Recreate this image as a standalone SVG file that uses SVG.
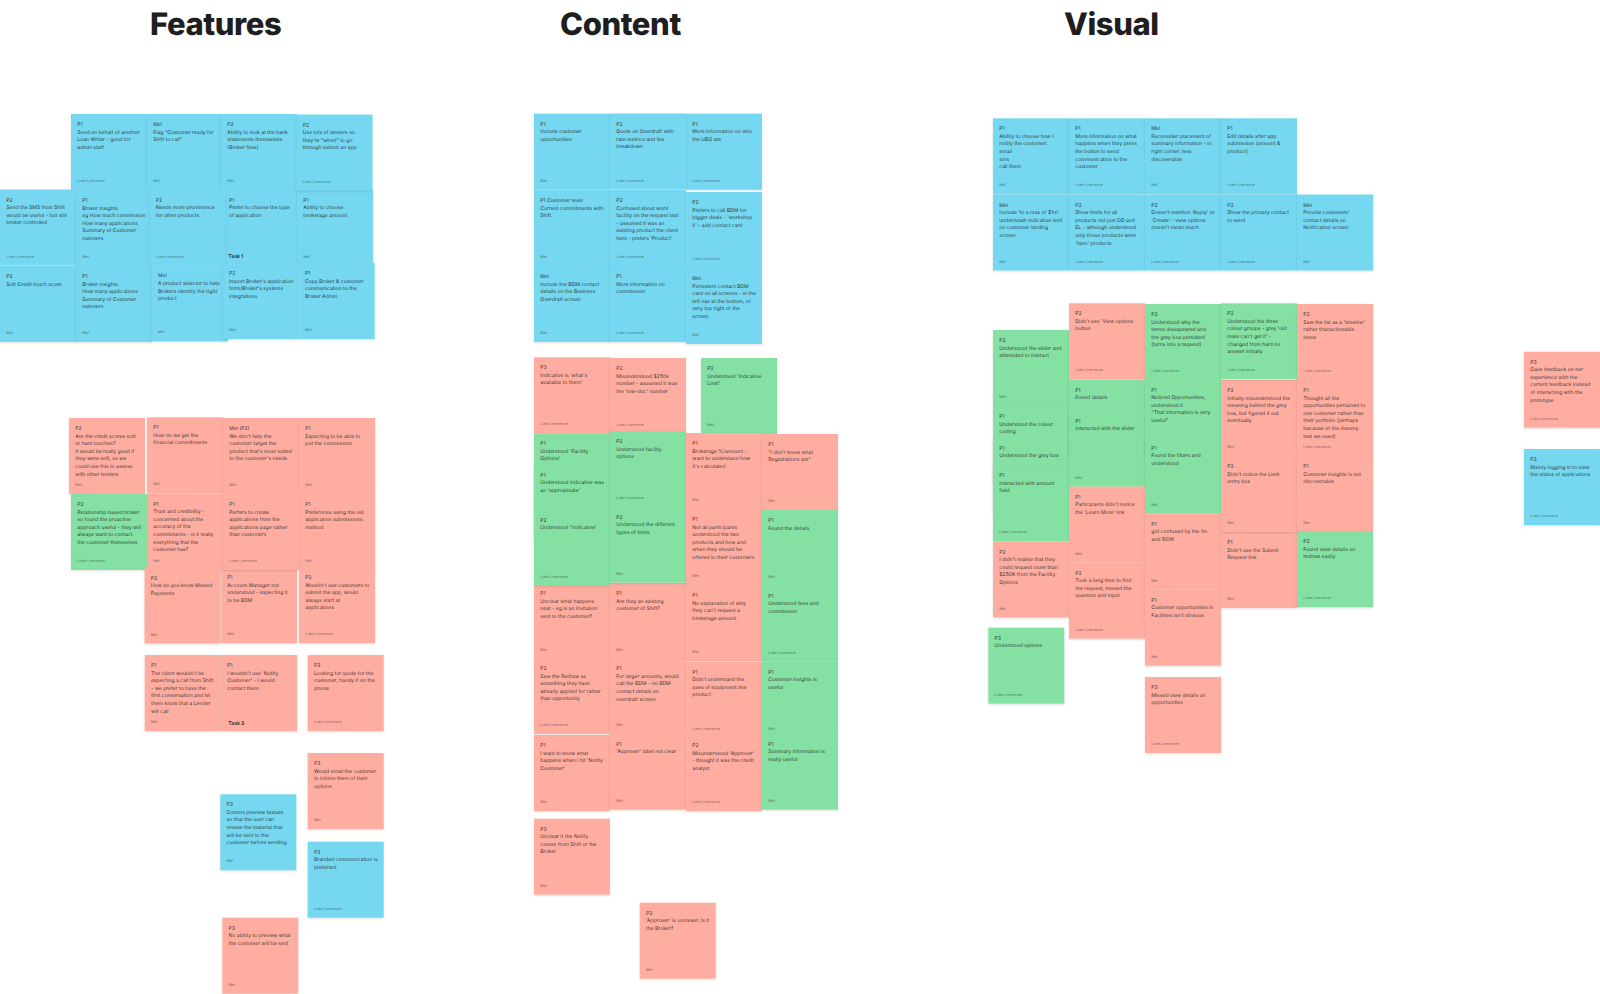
<svg xmlns="http://www.w3.org/2000/svg" width="1600" height="994" viewBox="0 0 1600 994">
<style>
text{font-family:Inter,"Liberation Sans",sans-serif;text-rendering:geometricPrecision}
.h{font-size:31px;font-weight:800;fill:#1e1e1e;letter-spacing:-.4px}
.t{font-size:5.07px;fill:#1e1e1e;fill-opacity:.9}
.a{font-size:3.8px;fill:#1e1e1e;fill-opacity:.6}
.k{font-size:5.07px;font-weight:600;fill:#1e1e1e}
.b,.r,.g{filter:url(#sh)}
.b{fill:#75D7F0}.r{fill:#FFADA1}.g{fill:#85E0A3}
</style>
<defs><filter id="sh" x="-10%" y="-10%" width="120%" height="125%"><feDropShadow dx="0" dy="1" stdDeviation="1.1" flood-color="#000" flood-opacity=".13"/></filter></defs>
<rect width="1600" height="994" fill="#fff"/>
<text class="h" x="150" y="35">Features</text>
<text class="h" x="560" y="35">Content</text>
<text class="h" x="1064" y="35">Visual</text>

<g id="f1" transform="translate(71 114)"><rect class="b" width="76" height="76"/><text class="t" x="6.3" y="12">P1<tspan x="6.3" dy="7.6">Send on behalf of another</tspan><tspan x="6.3" dy="7.6">Loan Writer - good for</tspan><tspan x="6.3" dy="7.6">admin staff</tspan></text><text class="a" x="6.3" y="68">Luke Livermore</text></g>
<g id="f2" transform="translate(147 114)"><rect class="b" width="76" height="76"/><text class="t" x="6.3" y="12">Mel<tspan x="6.3" dy="7.6">Flag "Customer ready for</tspan><tspan x="6.3" dy="7.6">Shift to call"</tspan></text><text class="a" x="6.3" y="68">Mel</text></g>
<g id="f3" transform="translate(221 114)"><rect class="b" width="76" height="76"/><text class="t" x="6.3" y="12">P2<tspan x="6.3" dy="7.6">Ability to look at the bank</tspan><tspan x="6.3" dy="7.6">statements themselves</tspan><tspan x="6.3" dy="7.6">(Broker flow)</tspan></text><text class="a" x="6.3" y="68">Mel</text></g>
<g id="f4" transform="translate(0 189.5)"><rect class="b" width="76" height="76"/><text class="t" x="6.3" y="12">P2<tspan x="6.3" dy="7.6">Send the SMS from Shift</tspan><tspan x="6.3" dy="7.6">would be useful - but still</tspan><tspan x="6.3" dy="7.6">broker controlled</tspan></text><text class="a" x="6.3" y="68">Luke Livermore</text></g>
<g id="f5" transform="translate(76 190)"><rect class="b" width="76" height="76"/><text class="t" x="6.3" y="12">P1<tspan x="6.3" dy="7.6">Broker insights</tspan><tspan x="6.3" dy="7.6">eg How much commission</tspan><tspan x="6.3" dy="7.6">How many applications</tspan><tspan x="6.3" dy="7.6">Summary of Customer</tspan><tspan x="6.3" dy="7.6">nubmers</tspan></text><text class="a" x="6.3" y="68">Mel</text></g>
<g id="f6" transform="translate(222.7 189.5)"><rect class="b" width="76" height="76"/><text class="t" x="6.3" y="12">P1<tspan x="6.3" dy="7.6">Prefer to choose the type</tspan><tspan x="6.3" dy="7.6">of application</tspan></text></g>
<g id="f7" transform="translate(297 189.5)"><rect class="b" width="76" height="76"/><text class="t" x="6.3" y="12">P1<tspan x="6.3" dy="7.6">Ability to choose</tspan><tspan x="6.3" dy="7.6">brokerage amount</tspan></text><text class="a" x="6.3" y="68">Mel</text></g>
<g id="f8" transform="translate(296.5 114.5)"><rect class="b" width="76" height="76"/><text class="t" x="6.3" y="12">P2<tspan x="6.3" dy="7.6">Use lots of lenders so</tspan><tspan x="6.3" dy="7.6">they're "wired" to go</tspan><tspan x="6.3" dy="7.6">through submit an app</tspan></text><text class="a" x="6.3" y="68">Luke Livermore</text></g>
<g id="f9" transform="translate(149.5 189.5)"><rect class="b" width="76" height="76"/><text class="t" x="6.3" y="12">P2<tspan x="6.3" dy="7.6">Needs more prominence</tspan><tspan x="6.3" dy="7.6">for other products</tspan></text><text class="a" x="6.3" y="68">Luke Livermore</text></g>
<g id="f10" transform="translate(0 266)"><rect class="b" width="76" height="76"/><text class="t" x="6.3" y="12">P2<tspan x="6.3" dy="7.6">Soft Credit touch score</tspan></text><text class="a" x="6.3" y="68">Mel</text></g>
<g id="f11" transform="translate(76 266)"><rect class="b" width="76" height="76"/><text class="t" x="6.3" y="12">P1<tspan x="6.3" dy="7.6">Broker insights</tspan><tspan x="6.3" dy="7.6">How many applications</tspan><tspan x="6.3" dy="7.6">Summary of Customer</tspan><tspan x="6.3" dy="7.6">nubmers</tspan></text><text class="a" x="6.3" y="68">Mel</text></g>
<g id="f12" transform="translate(151.7 265.4)"><rect class="b" width="76" height="76"/><text class="t" x="6.3" y="12">Mel<tspan x="6.3" dy="7.6">A product selector to help</tspan><tspan x="6.3" dy="7.6">Brokers identify the right</tspan><tspan x="6.3" dy="7.6">product</tspan></text><text class="a" x="6.3" y="68">Mel</text></g>
<g id="f13" transform="translate(222.7 263)"><rect class="b" width="76" height="76"/><text class="t" x="6.3" y="12">P2<tspan x="6.3" dy="7.6">Import Broker's application</tspan><tspan x="6.3" dy="7.6">form/Broker's systems</tspan><tspan x="6.3" dy="7.6">integrations</tspan></text><text class="a" x="6.3" y="68">Mel</text></g>
<g id="f14" transform="translate(298.7 263)"><rect class="b" width="76" height="76"/><text class="t" x="6.3" y="12">P1<tspan x="6.3" dy="7.6">Copy Broker &amp; customer</tspan><tspan x="6.3" dy="7.6">communication to the</tspan><tspan x="6.3" dy="7.6">Broker Admin</tspan></text><text class="a" x="6.3" y="68">Mel</text></g>
<text id="task1" class="k" x="228.3" y="258">Task 1</text>

<g id="f15" transform="translate(69 418)"><rect class="r" width="76" height="76"/><text class="t" x="6.3" y="12">P2<tspan x="6.3" dy="7.6">Are the credit scores soft</tspan><tspan x="6.3" dy="7.6">or hard touches?</tspan><tspan x="6.3" dy="7.6">It would be really good if</tspan><tspan x="6.3" dy="7.6">they were soft, so we</tspan><tspan x="6.3" dy="7.6">could use this to assess</tspan><tspan x="6.3" dy="7.6">with other lenders</tspan></text><text class="a" x="6.3" y="68">Mel</text></g>
<g id="f16" transform="translate(147 417.3)"><rect class="r" width="76" height="76"/><text class="t" x="6.3" y="12">P1<tspan x="6.3" dy="7.6">How do we get the</tspan><tspan x="6.3" dy="7.6">financial commitments</tspan></text><text class="a" x="6.3" y="68">Mel</text></g>
<g id="f17" transform="translate(223 418)"><rect class="r" width="76" height="76"/><text class="t" x="6.3" y="12">Mel (P2)<tspan x="6.3" dy="7.6">We don't help the</tspan><tspan x="6.3" dy="7.6">customer target the</tspan><tspan x="6.3" dy="7.6">product that's most suited</tspan><tspan x="6.3" dy="7.6">to the customer's needs</tspan></text><text class="a" x="6.3" y="68">Mel</text></g>
<g id="f18" transform="translate(299 418)"><rect class="r" width="76" height="76"/><text class="t" x="6.3" y="12">P1<tspan x="6.3" dy="7.6">Expecting to be able to</tspan><tspan x="6.3" dy="7.6">put the commission</tspan></text><text class="a" x="6.3" y="68">Mel</text></g>
<g id="f19" transform="translate(147 493.5)"><rect class="r" width="76" height="76"/><text class="t" x="6.3" y="12">P1<tspan x="6.3" dy="7.6">Trust and credibility -</tspan><tspan x="6.3" dy="7.6">concerned about the</tspan><tspan x="6.3" dy="7.6">accuracy of the</tspan><tspan x="6.3" dy="7.6">commitments - is it really</tspan><tspan x="6.3" dy="7.6">everything that the</tspan><tspan x="6.3" dy="7.6">customer has?</tspan></text><text class="a" x="6.3" y="68">Mel</text></g>
<g id="f20" transform="translate(71 494)"><rect class="g" width="76" height="76"/><text class="t" x="6.3" y="12">P2<tspan x="6.3" dy="7.6">Relationship based broker</tspan><tspan x="6.3" dy="7.6">so found the proactive</tspan><tspan x="6.3" dy="7.6">approach useful - they will</tspan><tspan x="6.3" dy="7.6">always want to contact</tspan><tspan x="6.3" dy="7.6">the customer themselves</tspan></text><text class="a" x="6.3" y="68">Luke Livermore</text></g>
<g id="f21" transform="translate(299 494)"><rect class="r" width="76" height="76"/><text class="t" x="6.3" y="12">P1<tspan x="6.3" dy="7.6">Prefernces using the old</tspan><tspan x="6.3" dy="7.6">application submissions</tspan><tspan x="6.3" dy="7.6">method</tspan></text><text class="a" x="6.3" y="68">Mel</text></g>
<g id="f22" transform="translate(144.5 567.5)"><rect class="r" width="76" height="76"/><text class="t" x="6.3" y="12">P2<tspan x="6.3" dy="7.6">How do you know Missed</tspan><tspan x="6.3" dy="7.6">Payments</tspan></text><text class="a" x="6.3" y="68">Mel</text></g>
<g id="f23" transform="translate(221 567)"><rect class="r" width="76" height="76"/><text class="t" x="6.3" y="12">P1<tspan x="6.3" dy="7.6">Account Manager not</tspan><tspan x="6.3" dy="7.6">understood - expecting it</tspan><tspan x="6.3" dy="7.6">to be BDM</tspan></text><text class="a" x="6.3" y="68">Mel</text></g>
<g id="f24" transform="translate(223 494)"><rect class="r" width="76" height="76"/><text class="t" x="6.3" y="12">P1<tspan x="6.3" dy="7.6">Perfers to create</tspan><tspan x="6.3" dy="7.6">applications from the</tspan><tspan x="6.3" dy="7.6">applications page rather</tspan><tspan x="6.3" dy="7.6">than customers</tspan></text><text class="a" x="6.3" y="68">Luke Livermore</text></g>
<g id="f25" transform="translate(299 567)"><rect class="r" width="76" height="76"/><text class="t" x="6.3" y="12">P2<tspan x="6.3" dy="7.6">Wouldn't use customers to</tspan><tspan x="6.3" dy="7.6">submit the app, would</tspan><tspan x="6.3" dy="7.6">always start at</tspan><tspan x="6.3" dy="7.6">applications</tspan></text><text class="a" x="6.3" y="68">Luke Livermore</text></g>
<g id="f26" transform="translate(144.7 655)"><rect class="r" width="76" height="76"/><text class="t" x="6.3" y="12">P1<tspan x="6.3" dy="7.6">The client wouldn't be</tspan><tspan x="6.3" dy="7.6">expecting a call from Shift</tspan><tspan x="6.3" dy="7.6">- we prefer to have the</tspan><tspan x="6.3" dy="7.6">first conversation and let</tspan><tspan x="6.3" dy="7.6">them know that a Lender</tspan><tspan x="6.3" dy="7.6">will call</tspan></text><text class="a" x="6.3" y="68">Mel</text></g>
<g id="f27" transform="translate(221 655)"><rect class="r" width="76" height="76"/><text class="t" x="6.3" y="12">P1<tspan x="6.3" dy="7.6">I wouldn't use 'Notify</tspan><tspan x="6.3" dy="7.6">Customer' - I would</tspan><tspan x="6.3" dy="7.6">contact them</tspan></text></g>
<text id="task3" class="k" x="228.3" y="725">Task 3</text>
<g id="f28" transform="translate(307.7 655)"><rect class="r" width="76" height="76"/><text class="t" x="6.3" y="12">P3<tspan x="6.3" dy="7.6">Looking for quote for the</tspan><tspan x="6.3" dy="7.6">customer, handy if on the</tspan><tspan x="6.3" dy="7.6">phone</tspan></text><text class="a" x="6.3" y="68">Luke Livermore</text></g>
<g id="f29" transform="translate(307.7 753)"><rect class="r" width="76" height="76"/><text class="t" x="6.3" y="12">P3<tspan x="6.3" dy="7.6">Would email the customer</tspan><tspan x="6.3" dy="7.6">to inform them of their</tspan><tspan x="6.3" dy="7.6">options</tspan></text><text class="a" x="6.3" y="68">Mel</text></g>
<g id="f30" transform="translate(220.3 794.3)"><rect class="b" width="76" height="76"/><text class="t" x="6.3" y="12">P3<tspan x="6.3" dy="7.6">Comms preview feature</tspan><tspan x="6.3" dy="7.6">so that the user can</tspan><tspan x="6.3" dy="7.6">review the material that</tspan><tspan x="6.3" dy="7.6">will be sent to the</tspan><tspan x="6.3" dy="7.6">customer before sending</tspan></text><text class="a" x="6.3" y="68">Mel</text></g>
<g id="f31" transform="translate(307.7 841.7)"><rect class="b" width="76" height="76"/><text class="t" x="6.3" y="12">P3<tspan x="6.3" dy="7.6">Branded communication is</tspan><tspan x="6.3" dy="7.6">preferred</tspan></text><text class="a" x="6.3" y="68">Luke Livermore</text></g>
<g id="f32" transform="translate(222.3 917.7)"><rect class="r" width="76" height="76"/><text class="t" x="6.3" y="12">P3<tspan x="6.3" dy="7.6">No ability to preview what</tspan><tspan x="6.3" dy="7.6">the customer will be sent</tspan></text><text class="a" x="6.3" y="68">Mel</text></g>

<g id="c1" transform="translate(534 113.7)"><rect class="b" width="76" height="76"/><text class="t" x="6.3" y="12">P1<tspan x="6.3" dy="7.6">Include customer</tspan><tspan x="6.3" dy="7.6">opportunities</tspan></text><text class="a" x="6.3" y="68">Mel</text></g>
<g id="c2" transform="translate(686 113.7)"><rect class="b" width="76" height="76"/><text class="t" x="6.3" y="12">P1<tspan x="6.3" dy="7.6">More information on who</tspan><tspan x="6.3" dy="7.6">the UBO are</tspan></text><text class="a" x="6.3" y="68">Luke Livermore</text></g>
<g id="c3" transform="translate(610 113.5)"><rect class="b" width="76" height="76"/><text class="t" x="6.3" y="12">P2<tspan x="6.3" dy="7.6">Quote on Overdraft with</tspan><tspan x="6.3" dy="7.6">rate metrics and fee</tspan><tspan x="6.3" dy="7.6">breakdown</tspan></text><text class="a" x="6.3" y="68">Luke Livermore</text></g>
<g id="c4" transform="translate(534 190)"><rect class="b" width="76" height="76"/><text class="t" x="6.3" y="12">P1 Customer level<tspan x="6.3" dy="7.6">Current commitments with</tspan><tspan x="6.3" dy="7.6">Shift</tspan></text><text class="a" x="6.3" y="68">Mel</text></g>
<g id="c5" transform="translate(610 190)"><rect class="b" width="76" height="76"/><text class="t" x="6.3" y="12">P2<tspan x="6.3" dy="7.6">Confused about word</tspan><tspan x="6.3" dy="7.6">facility on the request text</tspan><tspan x="6.3" dy="7.6">- assumed it was an</tspan><tspan x="6.3" dy="7.6">existing product the client</tspan><tspan x="6.3" dy="7.6">held - prefers 'Product'</tspan></text><text class="a" x="6.3" y="68">Luke Livermore</text></g>
<g id="c6" transform="translate(686 192)"><rect class="b" width="76" height="76"/><text class="t" x="6.3" y="12">P2<tspan x="6.3" dy="7.6">Prefers to call BDM for</tspan><tspan x="6.3" dy="7.6">bigger deals - 'workshop</tspan><tspan x="6.3" dy="7.6">it' - add contact card</tspan></text><text class="a" x="6.3" y="68">Luke Livermore</text></g>
<g id="c7" transform="translate(534 266)"><rect class="b" width="76" height="76"/><text class="t" x="6.3" y="12">Mel<tspan x="6.3" dy="7.6">Include the BDM contact</tspan><tspan x="6.3" dy="7.6">details on the Business</tspan><tspan x="6.3" dy="7.6">Overdraft screen</tspan></text><text class="a" x="6.3" y="68">Mel</text></g>
<g id="c8" transform="translate(610 266)"><rect class="b" width="76" height="76"/><text class="t" x="6.3" y="12">P1<tspan x="6.3" dy="7.6">More information on</tspan><tspan x="6.3" dy="7.6">commission</tspan></text><text class="a" x="6.3" y="68">Luke Livermore</text></g>
<g id="c9" transform="translate(686 268)"><rect class="b" width="76" height="76"/><text class="t" x="6.3" y="12">Mel<tspan x="6.3" dy="7.6">Persistent contact BDM</tspan><tspan x="6.3" dy="7.6">card on all screens - in the</tspan><tspan x="6.3" dy="7.6">left nav at the bottom, or</tspan><tspan x="6.3" dy="7.6">very top right of the</tspan><tspan x="6.3" dy="7.6">screen</tspan></text><text class="a" x="6.3" y="68">Mel</text></g>

<g id="c10" transform="translate(534 357.3)"><rect class="r" width="76" height="76"/><text class="t" x="6.3" y="12">P3<tspan x="6.3" dy="7.6">Indicative is 'what's</tspan><tspan x="6.3" dy="7.6">available to them'</tspan></text><text class="a" x="6.3" y="68">Luke Livermore</text></g>
<g id="c11" transform="translate(610 358)"><rect class="r" width="76" height="76"/><text class="t" x="6.3" y="12">P2<tspan x="6.3" dy="7.6">Misunderstood $250k</tspan><tspan x="6.3" dy="7.6">number - asuumed it was</tspan><tspan x="6.3" dy="7.6">the 'low-doc' number</tspan></text><text class="a" x="6.3" y="68">Luke Livermore</text></g>
<g id="c12" transform="translate(701 358)"><rect class="g" width="76" height="76"/><text class="t" x="6.3" y="12">P2<tspan x="6.3" dy="7.6">Understood 'Indicative</tspan><tspan x="6.3" dy="7.6">Limit'</tspan></text><text class="a" x="6.3" y="68">Mel</text></g>
<g id="c13" transform="translate(534 583)"><rect class="r" width="76" height="76"/><text class="t" x="6.3" y="12">P1<tspan x="6.3" dy="7.6">Unclear what happens</tspan><tspan x="6.3" dy="7.6">next - eg is an invitation</tspan><tspan x="6.3" dy="7.6">sent to the customer?</tspan></text><text class="a" x="6.3" y="68">Mel</text></g>
<g id="c14" transform="translate(534 433.3)"><rect class="g" width="76" height="76"/><text class="t" x="6.3" y="12">P1<tspan x="6.3" dy="7.6">Understood 'Facility</tspan><tspan x="6.3" dy="7.6">Options'</tspan></text></g>
<g id="c15" transform="translate(534 464.5)"><rect class="g" width="76" height="76"/><text class="t" x="6.3" y="12">P1<tspan x="6.3" dy="7.6">Understood indicative was</tspan><tspan x="6.3" dy="7.6">an 'approximate'</tspan></text></g>
<g id="c16" transform="translate(534 509.5)"><rect class="g" width="76" height="76"/><text class="t" x="6.3" y="12">P2<tspan x="6.3" dy="7.6">Understood "indicative'</tspan></text><text class="a" x="6.3" y="68">Luke Livermore</text></g>
<g id="c17" transform="translate(610 583)"><rect class="r" width="76" height="76"/><text class="t" x="6.3" y="12">P1<tspan x="6.3" dy="7.6">Are they an existing</tspan><tspan x="6.3" dy="7.6">customer of Shift?</tspan></text><text class="a" x="6.3" y="68">Mel</text></g>
<g id="c18" transform="translate(610 431)"><rect class="g" width="76" height="76"/><text class="t" x="6.3" y="12">P2<tspan x="6.3" dy="7.6">Understood facility</tspan><tspan x="6.3" dy="7.6">options</tspan></text><text class="a" x="6.3" y="68">Luke Livermore</text></g>
<g id="c19" transform="translate(610 506.7)"><rect class="g" width="76" height="76"/><text class="t" x="6.3" y="12">P2<tspan x="6.3" dy="7.6">Understood the different</tspan><tspan x="6.3" dy="7.6">types of limits</tspan></text><text class="a" x="6.3" y="68">Mel</text></g>
<g id="c20" transform="translate(686 433)"><rect class="r" width="76" height="76"/><text class="t" x="6.3" y="12">P1<tspan x="6.3" dy="7.6">Brokerage %/amount -</tspan><tspan x="6.3" dy="7.6">want to understand how</tspan><tspan x="6.3" dy="7.6">it's calculated</tspan></text><text class="a" x="6.3" y="68">Mel</text></g>
<g id="c21" transform="translate(686 509)"><rect class="r" width="76" height="76"/><text class="t" x="6.3" y="12">P1<tspan x="6.3" dy="7.6">Not all participants</tspan><tspan x="6.3" dy="7.6">understood the two</tspan><tspan x="6.3" dy="7.6">products and how and</tspan><tspan x="6.3" dy="7.6">when they should be</tspan><tspan x="6.3" dy="7.6">offered to their customers</tspan></text><text class="a" x="6.3" y="68">Mel</text></g>
<g id="c22" transform="translate(686 585)"><rect class="r" width="76" height="76"/><text class="t" x="6.3" y="12">P1<tspan x="6.3" dy="7.6">No explanation of why</tspan><tspan x="6.3" dy="7.6">they can't request a</tspan><tspan x="6.3" dy="7.6">brokerage amount</tspan></text><text class="a" x="6.3" y="68">Mel</text></g>
<g id="c23" transform="translate(762 434)"><rect class="r" width="76" height="76"/><text class="t" x="6.3" y="12">P1<tspan x="6.3" dy="7.6">"I don't know what</tspan><tspan x="6.3" dy="7.6">Registrations are"</tspan></text><text class="a" x="6.3" y="68">Mel</text></g>
<g id="c24" transform="translate(762 510)"><rect class="g" width="76" height="76"/><text class="t" x="6.3" y="12">P1<tspan x="6.3" dy="7.6">Found the details</tspan></text><text class="a" x="6.3" y="68">Mel</text></g>
<g id="c25" transform="translate(762 585.7)"><rect class="g" width="76" height="76"/><text class="t" x="6.3" y="12">P1<tspan x="6.3" dy="7.6">Understood fees and</tspan><tspan x="6.3" dy="7.6">commission</tspan></text><text class="a" x="6.3" y="68">Luke Livermore</text></g>
<g id="c26" transform="translate(534 658)"><rect class="r" width="76" height="76"/><text class="t" x="6.3" y="12">P2<tspan x="6.3" dy="7.6">Saw the Redraw as</tspan><tspan x="6.3" dy="7.6">something they have</tspan><tspan x="6.3" dy="7.6">already applied for rather</tspan><tspan x="6.3" dy="7.6">than opportunity</tspan></text><text class="a" x="6.3" y="68">Luke Livermore</text></g>
<g id="c27" transform="translate(610 658.3)"><rect class="r" width="76" height="76"/><text class="t" x="6.3" y="12">P1<tspan x="6.3" dy="7.6">For larger amounts, would</tspan><tspan x="6.3" dy="7.6">call the BDM - no BDM</tspan><tspan x="6.3" dy="7.6">contact details on</tspan><tspan x="6.3" dy="7.6">overdraft screen</tspan></text><text class="a" x="6.3" y="68">Mel</text></g>
<g id="c28" transform="translate(686 661.7)"><rect class="r" width="76" height="76"/><text class="t" x="6.3" y="12">P1<tspan x="6.3" dy="7.6">Didn't understand the</tspan><tspan x="6.3" dy="7.6">uses of equipment line</tspan><tspan x="6.3" dy="7.6">product</tspan></text><text class="a" x="6.3" y="68">Luke Livermore</text></g>
<g id="c29" transform="translate(762 661.7)"><rect class="g" width="76" height="76"/><text class="t" x="6.3" y="12">P1<tspan x="6.3" dy="7.6">Customer insights is</tspan><tspan x="6.3" dy="7.6">useful</tspan></text><text class="a" x="6.3" y="68">Mel</text></g>
<g id="c30" transform="translate(534 735)"><rect class="r" width="76" height="76"/><text class="t" x="6.3" y="12">P1<tspan x="6.3" dy="7.6">I want to know what</tspan><tspan x="6.3" dy="7.6">happens when I hit 'Notify</tspan><tspan x="6.3" dy="7.6">Customer'</tspan></text><text class="a" x="6.3" y="68">Mel</text></g>
<g id="c31" transform="translate(610 733.7)"><rect class="r" width="76" height="76"/><text class="t" x="6.3" y="12">P1<tspan x="6.3" dy="7.6">'Approver' label not clear</tspan></text><text class="a" x="6.3" y="68">Mel</text></g>
<g id="c32" transform="translate(686 735)"><rect class="r" width="76" height="76"/><text class="t" x="6.3" y="12">P2<tspan x="6.3" dy="7.6">Misunderstood 'Approver'</tspan><tspan x="6.3" dy="7.6">- thought it was the credit</tspan><tspan x="6.3" dy="7.6">analyst</tspan></text><text class="a" x="6.3" y="68">Luke Livermore</text></g>
<g id="c33" transform="translate(762 733.7)"><rect class="g" width="76" height="76"/><text class="t" x="6.3" y="12">P1<tspan x="6.3" dy="7.6">Summary information is</tspan><tspan x="6.3" dy="7.6">really useful</tspan></text><text class="a" x="6.3" y="68">Mel</text></g>
<g id="c34" transform="translate(534 818.7)"><rect class="r" width="76" height="76"/><text class="t" x="6.3" y="12">P3<tspan x="6.3" dy="7.6">Unclear if the Notify</tspan><tspan x="6.3" dy="7.6">comes from Shift or the</tspan><tspan x="6.3" dy="7.6">Broker</tspan></text><text class="a" x="6.3" y="68">Mel</text></g>
<g id="c35" transform="translate(639.7 902.7)"><rect class="r" width="76" height="76"/><text class="t" x="6.3" y="12">P3<tspan x="6.3" dy="7.6">'Approver' is uncleaer. Is it</tspan><tspan x="6.3" dy="7.6">the Broker?</tspan></text><text class="a" x="6.3" y="68">Mel</text></g>

<g id="v1" transform="translate(993 118.3)"><rect class="b" width="76" height="76"/><text class="t" x="6.3" y="12">P1<tspan x="6.3" dy="7.6">Ability to choose how I</tspan><tspan x="6.3" dy="7.6">notify the customer:</tspan><tspan x="6.3" dy="7.6">email</tspan><tspan x="6.3" dy="7.6">sms</tspan><tspan x="6.3" dy="7.6">call them</tspan></text><text class="a" x="6.3" y="68">Mel</text></g>
<g id="v2" transform="translate(1069 118.3)"><rect class="b" width="76" height="76"/><text class="t" x="6.3" y="12">P1<tspan x="6.3" dy="7.6">More information on what</tspan><tspan x="6.3" dy="7.6">happens when they press</tspan><tspan x="6.3" dy="7.6">the button to send</tspan><tspan x="6.3" dy="7.6">communication to the</tspan><tspan x="6.3" dy="7.6">customer</tspan></text><text class="a" x="6.3" y="68">Luke Livermore</text></g>
<g id="v3" transform="translate(1145 118.3)"><rect class="b" width="76" height="76"/><text class="t" x="6.3" y="12">Mel<tspan x="6.3" dy="7.6">Reconsider placement of</tspan><tspan x="6.3" dy="7.6">summary information - in</tspan><tspan x="6.3" dy="7.6">right corner, less</tspan><tspan x="6.3" dy="7.6">discoverable</tspan></text><text class="a" x="6.3" y="68">Mel</text></g>
<g id="v4" transform="translate(1221 118.3)"><rect class="b" width="76" height="76"/><text class="t" x="6.3" y="12">P1<tspan x="6.3" dy="7.6">Edit details after app</tspan><tspan x="6.3" dy="7.6">submission (amount &amp;</tspan><tspan x="6.3" dy="7.6">product)</tspan></text><text class="a" x="6.3" y="68">Luke Livermore</text></g>
<g id="v5" transform="translate(993 194.5)"><rect class="b" width="76" height="76"/><text class="t" x="6.3" y="12">Mel<tspan x="6.3" dy="7.6">Include 'to a max of $1m'</tspan><tspan x="6.3" dy="7.6">underneath indicative limit</tspan><tspan x="6.3" dy="7.6">on customer landing</tspan><tspan x="6.3" dy="7.6">screen</tspan></text><text class="a" x="6.3" y="68">Mel</text></g>
<g id="v6" transform="translate(1069 194.5)"><rect class="b" width="76" height="76"/><text class="t" x="6.3" y="12">P2<tspan x="6.3" dy="7.6">Show limits for all</tspan><tspan x="6.3" dy="7.6">products not just OD and</tspan><tspan x="6.3" dy="7.6">EL - although understood</tspan><tspan x="6.3" dy="7.6">only those products were</tspan><tspan x="6.3" dy="7.6">'hero' products</tspan></text><text class="a" x="6.3" y="68">Luke Livermore</text></g>
<g id="v7" transform="translate(1145 194.5)"><rect class="b" width="76" height="76"/><text class="t" x="6.3" y="12">P2<tspan x="6.3" dy="7.6">Doesn't mention 'Apply' or</tspan><tspan x="6.3" dy="7.6">'Create' - view options</tspan><tspan x="6.3" dy="7.6">doesn't mean much</tspan></text><text class="a" x="6.3" y="68">Luke Livermore</text></g>
<g id="v8" transform="translate(1221 194.5)"><rect class="b" width="76" height="76"/><text class="t" x="6.3" y="12">P2<tspan x="6.3" dy="7.6">Show the primary contact</tspan><tspan x="6.3" dy="7.6">to send</tspan></text><text class="a" x="6.3" y="68">Luke Livermore</text></g>
<g id="v9" transform="translate(1297 194.5)"><rect class="b" width="76" height="76"/><text class="t" x="6.3" y="12">Mel<tspan x="6.3" dy="7.6">Provide customers'</tspan><tspan x="6.3" dy="7.6">contact details on</tspan><tspan x="6.3" dy="7.6">Notification screen</tspan></text><text class="a" x="6.3" y="68">Mel</text></g>

<g id="v10" transform="translate(993 330)"><rect class="g" width="76" height="76"/><text class="t" x="6.3" y="12">P2<tspan x="6.3" dy="7.6">Understood the slider and</tspan><tspan x="6.3" dy="7.6">attempted to interact</tspan></text><text class="a" x="6.3" y="68">Mel</text></g>
<g id="v11" transform="translate(993 406)"><rect class="g" width="76" height="76"/><text class="t" x="6.3" y="12">P1<tspan x="6.3" dy="7.6">Understood the colour</tspan><tspan x="6.3" dy="7.6">coding</tspan></text></g>
<g id="v12" transform="translate(993 437.7)"><rect class="g" width="76" height="76"/><text class="t" x="6.3" y="12">P1<tspan x="6.3" dy="7.6">Understood the grey box</tspan></text></g>
<g id="v13" transform="translate(993 465.3)"><rect class="g" width="76" height="76"/><text class="t" x="6.3" y="12">P1<tspan x="6.3" dy="7.6">Interacted with amount</tspan><tspan x="6.3" dy="7.6">field</tspan></text><text class="a" x="6.3" y="68">Luke Livermore</text></g>
<g id="v14" transform="translate(993 541.5)"><rect class="r" width="76" height="76"/><text class="t" x="6.3" y="12">P2<tspan x="6.3" dy="7.6">I didn't realise that they</tspan><tspan x="6.3" dy="7.6">could request more than</tspan><tspan x="6.3" dy="7.6">$250K from the Facility</tspan><tspan x="6.3" dy="7.6">Options</tspan></text><text class="a" x="6.3" y="68">Mel</text></g>
<g id="v15" transform="translate(988.3 627.7)"><rect class="g" width="76" height="76"/><text class="t" x="6.3" y="12">P3<tspan x="6.3" dy="7.6">Understood options</tspan></text><text class="a" x="6.3" y="68">Luke Livermore</text></g>
<g id="v16" transform="translate(1069 303.3)"><rect class="r" width="76" height="76"/><text class="t" x="6.3" y="12">P2<tspan x="6.3" dy="7.6">Didn't see 'View options'</tspan><tspan x="6.3" dy="7.6">button</tspan></text><text class="a" x="6.3" y="68">Luke Livermore</text></g>
<g id="v17" transform="translate(1069 379.5)"><rect class="g" width="76" height="76"/><text class="t" x="6.3" y="12">P1<tspan x="6.3" dy="7.6">Found details</tspan></text></g>
<g id="v18" transform="translate(1069 410.7)"><rect class="g" width="76" height="76"/><text class="t" x="6.3" y="12">P1<tspan x="6.3" dy="7.6">Interacted with the slider</tspan></text><text class="a" x="6.3" y="68">Mel</text></g>
<g id="v19" transform="translate(1069 486.7)"><rect class="r" width="76" height="76"/><text class="t" x="6.3" y="12">P1<tspan x="6.3" dy="7.6">Participants didn't notice</tspan><tspan x="6.3" dy="7.6">the 'Learn More' link</tspan></text><text class="a" x="6.3" y="68">Mel</text></g>
<g id="v20" transform="translate(1069 562.7)"><rect class="r" width="76" height="76"/><text class="t" x="6.3" y="12">P2<tspan x="6.3" dy="7.6">Took a long time to find</tspan><tspan x="6.3" dy="7.6">the request, missed the</tspan><tspan x="6.3" dy="7.6">question and input</tspan></text><text class="a" x="6.3" y="68">Luke Livermore</text></g>
<g id="v21" transform="translate(1145 304)"><rect class="g" width="76" height="76"/><text class="t" x="6.3" y="12">P2<tspan x="6.3" dy="7.6">Understood why the</tspan><tspan x="6.3" dy="7.6">terms dissapeared and</tspan><tspan x="6.3" dy="7.6">the grey box persisted</tspan><tspan x="6.3" dy="7.6">(turns into a request)</tspan></text><text class="a" x="6.3" y="68">Luke Livermore</text></g>
<g id="v22" transform="translate(1145 379.5)"><rect class="g" width="76" height="76"/><text class="t" x="6.3" y="12">P1<tspan x="6.3" dy="7.6">Noticed Opportunities,</tspan><tspan x="6.3" dy="7.6">understood it</tspan><tspan x="6.3" dy="7.6">"That information is very</tspan><tspan x="6.3" dy="7.6">useful"</tspan></text></g>
<g id="v23" transform="translate(1145 437.7)"><rect class="g" width="76" height="76"/><text class="t" x="6.3" y="12">P1<tspan x="6.3" dy="7.6">Found the filters and</tspan><tspan x="6.3" dy="7.6">understood</tspan></text><text class="a" x="6.3" y="68">Mel</text></g>
<g id="v24" transform="translate(1145 513.7)"><rect class="r" width="76" height="76"/><text class="t" x="6.3" y="12">P1<tspan x="6.3" dy="7.6">got confused by the 1m</tspan><tspan x="6.3" dy="7.6">and 500K</tspan></text><text class="a" x="6.3" y="68">Mel</text></g>
<g id="v25" transform="translate(1145 589.7)"><rect class="r" width="76" height="76"/><text class="t" x="6.3" y="12">P1<tspan x="6.3" dy="7.6">Customer opportunities in</tspan><tspan x="6.3" dy="7.6">Facilities isn't obvious</tspan></text><text class="a" x="6.3" y="68">Mel</text></g>
<g id="v26" transform="translate(1145 677)"><rect class="r" width="76" height="76"/><text class="t" x="6.3" y="12">P3<tspan x="6.3" dy="7.6">Missed view details on</tspan><tspan x="6.3" dy="7.6">opportunities</tspan></text><text class="a" x="6.3" y="68">Luke Livermore</text></g>
<g id="v27" transform="translate(1221 380)"><rect class="r" width="76" height="76"/><text class="t" x="6.3" y="12">P2<tspan x="6.3" dy="7.6">Initially misunderstood the</tspan><tspan x="6.3" dy="7.6">meaning behind the grey</tspan><tspan x="6.3" dy="7.6">box, but figured it out</tspan><tspan x="6.3" dy="7.6">eventually</tspan></text><text class="a" x="6.3" y="68">Mel</text></g>
<g id="v28" transform="translate(1221 303.3)"><rect class="g" width="76" height="76"/><text class="t" x="6.3" y="12">P2<tspan x="6.3" dy="7.6">Understood the three</tspan><tspan x="6.3" dy="7.6">colour groups - grey 'old</tspan><tspan x="6.3" dy="7.6">mate can't get it' -</tspan><tspan x="6.3" dy="7.6">changed from hard no</tspan><tspan x="6.3" dy="7.6">answer initially</tspan></text><text class="a" x="6.3" y="68">Luke Livermore</text></g>
<g id="v29" transform="translate(1221 532)"><rect class="r" width="76" height="76"/><text class="t" x="6.3" y="12">P1<tspan x="6.3" dy="7.6">Didn't see the Submit</tspan><tspan x="6.3" dy="7.6">Request link</tspan></text><text class="a" x="6.3" y="68">Mel</text></g>
<g id="v30" transform="translate(1221 456)"><rect class="r" width="76" height="76"/><text class="t" x="6.3" y="12">P2<tspan x="6.3" dy="7.6">Didn't notice the Limit</tspan><tspan x="6.3" dy="7.6">entry box</tspan></text><text class="a" x="6.3" y="68">Mel</text></g>
<g id="v31" transform="translate(1297 304)"><rect class="r" width="76" height="76"/><text class="t" x="6.3" y="12">P2<tspan x="6.3" dy="7.6">Saw the list as a 'timeline'</tspan><tspan x="6.3" dy="7.6">rather thanactionable</tspan><tspan x="6.3" dy="7.6">items</tspan></text><text class="a" x="6.3" y="68">Luke Livermore</text></g>
<g id="v32" transform="translate(1297 380)"><rect class="r" width="76" height="76"/><text class="t" x="6.3" y="12">P1<tspan x="6.3" dy="7.6">Thought all the</tspan><tspan x="6.3" dy="7.6">opportunities pertained to</tspan><tspan x="6.3" dy="7.6">one customer rather than</tspan><tspan x="6.3" dy="7.6">their portfolio (perhaps</tspan><tspan x="6.3" dy="7.6">because of the dummy</tspan><tspan x="6.3" dy="7.6">text we used)</tspan></text><text class="a" x="6.3" y="68">Luke Livermore</text></g>
<g id="v33" transform="translate(1297 456)"><rect class="r" width="76" height="76"/><text class="t" x="6.3" y="12">P1<tspan x="6.3" dy="7.6">Customer insights is not</tspan><tspan x="6.3" dy="7.6">discoverable</tspan></text><text class="a" x="6.3" y="68">Mel</text></g>
<g id="v34" transform="translate(1297 531.3)"><rect class="g" width="76" height="76"/><text class="t" x="6.3" y="12">P2<tspan x="6.3" dy="7.6">Found view details on</tspan><tspan x="6.3" dy="7.6">redraw easily</tspan></text><text class="a" x="6.3" y="68">Luke Livermore</text></g>
<g id="v35" transform="translate(1524 351.7)"><rect class="r" width="76" height="76"/><text class="t" x="6.3" y="12">P3<tspan x="6.3" dy="7.6">Gave feedback on her</tspan><tspan x="6.3" dy="7.6">experience with the</tspan><tspan x="6.3" dy="7.6">current feedback instead</tspan><tspan x="6.3" dy="7.6">of interacting with the</tspan><tspan x="6.3" dy="7.6">prototype</tspan></text><text class="a" x="6.3" y="68">Luke Livermore</text></g>
<g id="v36" transform="translate(1524 449)"><rect class="b" width="76" height="76"/><text class="t" x="6.3" y="12">P3<tspan x="6.3" dy="7.6">Mainly logging in to view</tspan><tspan x="6.3" dy="7.6">the status of applications</tspan></text><text class="a" x="6.3" y="68">Luke Livermore</text></g>
</svg>
